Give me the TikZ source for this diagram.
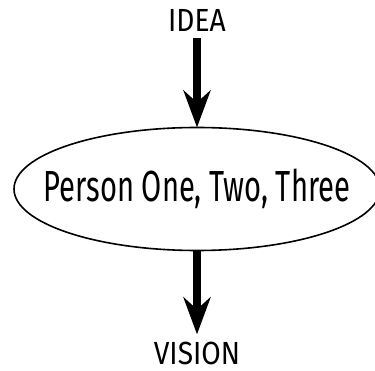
\documentclass[tikz,border=0pt]{standalone}
\usepackage{fontspec}
\setmainfont{Fira Sans}
\newfontfamily\personfont[FakeStretch=0.67]{Fira Sans}
\newfontfamily\stepfont[FakeStretch=0.88]{Fira Sans}
\usetikzlibrary{arrows.meta}

\begin{document}
\begin{tikzpicture}[x=1pt,y=-1pt,>={Stealth[length=37pt,width=27pt,inset=12pt]}]
  \tikzset{
    endword/.style={font=\stepfont\fontsize{32}{32}\selectfont,inner sep=0pt,anchor=base},
    flow/.style={->,line width=7.5pt}
  }
  \useasboundingbox (0,0) rectangle (375,371);
  \node[endword] (idea) at (197,32) {IDEA};
  \node[inner sep=0pt,font=\personfont\fontsize{43.5}{43.5}\selectfont] (people) at (197,189) {Person One, Two, Three};
  \draw[line width=1.6pt] (people.center) ellipse [x radius=183, y radius=61.5];
  \coordinate (top) at ([yshift=61.5pt]people.center);
  \coordinate (bottom) at ([yshift=-61.5pt]people.center);
  \node[endword] (vision) at (197,365) {VISION};
  \draw[flow,shorten <=6pt] (idea.south) -- (top);
  \draw[flow,shorten >=8pt] (bottom) -- (vision.north);
\end{tikzpicture}
\end{document}
